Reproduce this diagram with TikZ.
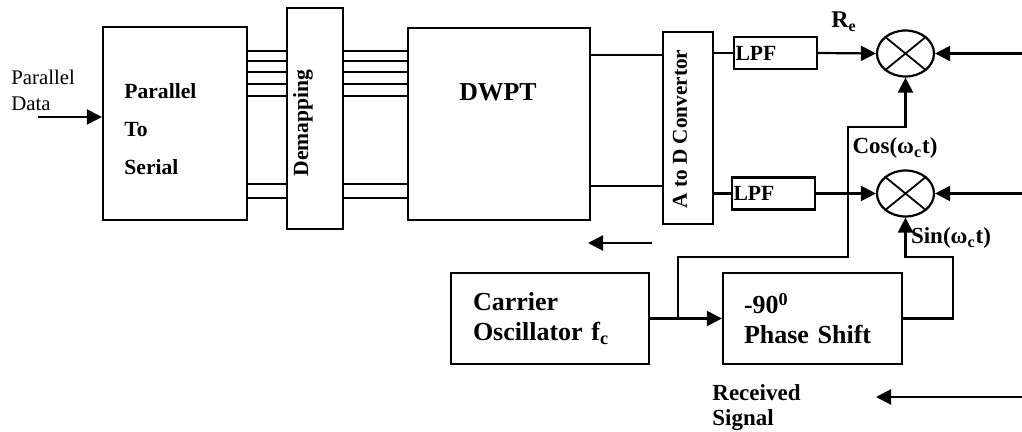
\documentclass[tikz,border=0pt]{standalone}
\usepackage{fontspec}
\setmainfont{Liberation Serif}
\usetikzlibrary{arrows.meta, shapes.geometric, calc}

\begin{document}
\begin{tikzpicture}[
    x=0.5pt, y=-0.5pt,
    every node/.style={font=\bfseries},
    blk/.style={
        draw, rectangle, line width=1.1pt,
        inner sep=0pt
    },
    mixer/.style={
        draw, ellipse, line width=1.1pt,
        minimum width=28.5pt, minimum height=23pt, inner sep=0pt
    },
    arrow/.style={-{Triangle[length=7.5pt,width=7.5pt]}, line width=1.1pt},
    wire/.style={line width=1.1pt},
    bus/.style={line width=0.85pt},
    txt/.style={inner sep=0pt, align=left}
]

\useasboundingbox (0,0) rectangle (1022,432);

% === LEFT PART ===
\node[txt, anchor=west, font=\normalfont\fontsize{10.4}{13}\selectfont]
    (pdlbl) at (11,90)
    {Parallel\\Data};

\node[blk, minimum width=72pt, minimum height=96.5pt]
    (ptos) at (175,123.5) {};
\node[txt, anchor=west, font=\bfseries\fontsize{10.8}{19}\selectfont]
    (ptoslbl) at (124,129)
    {Parallel\\To\\Serial};

\node[blk, minimum width=28pt, minimum height=110.5pt]
    (demap) at (315,118.5) {};
\node[rotate=90, inner sep=0pt, font=\bfseries\fontsize{10.8}{13}\selectfont]
    (demaplbl) at (303,123) {Demapping};

\node[blk, minimum width=91pt, minimum height=96pt]
    (dwpt) at (499,124) {};
\node[inner sep=0pt, font=\bfseries\fontsize{12.9}{15}\selectfont]
    (dwptlbl) at (498,92) {DWPT};

\node[blk, minimum width=25pt, minimum height=96pt]
    (adc) at (688,128) {};
\node[rotate=90, inner sep=0pt, font=\bfseries\fontsize{10.6}{13}\selectfont]
    (adclbl) at (680,129) {A to D Convertor};

% === RIGHT PART ===
\node[blk, minimum width=41.5pt, minimum height=16pt,
      text width=40pt, inner xsep=0.5pt, align=left,
      font=\bfseries\fontsize{10.8}{12}\selectfont]
    (lpf1) at (775.5,53) {LPF};
\node[blk, minimum width=41.5pt, minimum height=16pt,
      text width=40pt, inner xsep=0.5pt, align=left,
      font=\bfseries\fontsize{10.8}{12}\selectfont]
    (lpf2) at (773.5,193.5) {LPF};

\node[mixer] (m1) at (905.5,53.5) {};
\node[mixer] (m2) at (905.5,193.5) {};
\draw[line width=0.9pt] (m1.north west) -- (m1.south east)
                        (m1.north east) -- (m1.south west);
\draw[line width=0.9pt] (m2.north west) -- (m2.south east)
                        (m2.north east) -- (m2.south west);

\node[inner sep=0pt, font=\bfseries\fontsize{12}{14}\selectfont]
    (relbl) at (844,22) {R\textsubscript{e}};
\node[inner sep=0pt, font=\bfseries\fontsize{11.5}{14}\selectfont]
    (coslbl) at (895,148) {Cos(ω\textsubscript{c}t)};
\node[inner sep=0pt, font=\bfseries\fontsize{11.5}{14}\selectfont]
    (sinlbl) at (951,238) {Sin(ω\textsubscript{c}t)};

% === OSCILLATOR ROW ===
\node[blk, minimum width=99pt, minimum height=45.5pt,
      text width=77pt, inner xsep=11pt, align=left,
      font=\bfseries\fontsize{13}{15}\selectfont]
    (osc) at (550,318.5)
    {Carrier\\Oscillator f\textsubscript{c}};

\node[blk, minimum width=89.5pt, minimum height=45.5pt,
      text width=68.5pt, inner xsep=10.5pt, align=left,
      font=\bfseries\fontsize{13}{15}\selectfont]
    (phase) at (812.5,318.5)
    {-90\textsuperscript{0}\\Phase Shift};

\node[txt, anchor=west, font=\bfseries\fontsize{11.5}{12.5}\selectfont]
    (rxlbl) at (712,408)
    {Received\\Signal};

% ── CONNECTORS ─────────────────────────────────────────────
\coordinate (pdin) at (38,117);
\draw[arrow] (pdin) -- (pdin -| ptos.west);

% parallel lines
\foreach \yy in {51,61,72,84,96,184,198} {
    \draw[bus] (ptos.east |- 0,\yy) -- (demap.west |- 0,\yy);
    \draw[bus] (demap.east |- 0,\yy) -- (dwpt.west |- 0,\yy);
}
\foreach \yy in {55,186}
    \draw[bus] (dwpt.east |- 0,\yy) -- (adc.west |- 0,\yy);

\draw[wire] (adc.east |- lpf1) -- (lpf1.west);
\draw[wire] (adc.east |- lpf2) -- (lpf2.west);

\draw[arrow] (lpf1.east) -- (m1.west);
\draw[arrow] (lpf2.east) -- (m2.west);

\coordinate (rin1) at (1022,53.5);
\coordinate (rin2) at (1022,193.5);
\draw[arrow] (rin1) -- (m1.east);
\draw[arrow] (rin2) -- (m2.east);

% carrier paths
\draw[arrow] (osc.east) -- (phase.west);
\coordinate (jct) at (678,318.5);
\draw[arrow] (jct) |- (848,257) -- (848,127) -| (m1.south);
\draw[arrow] (phase.east) -| (953,257) -| (m2.south);

% direction arrows
\coordinate (back1) at (652,243);
\coordinate (back2) at (588,243);
\draw[arrow] (back1) -- (back2);
\coordinate (rx) at (1022,397);
\coordinate (rxend) at (876,397);
\draw[arrow] (rx) -- (rxend);

\end{tikzpicture}
\end{document}
